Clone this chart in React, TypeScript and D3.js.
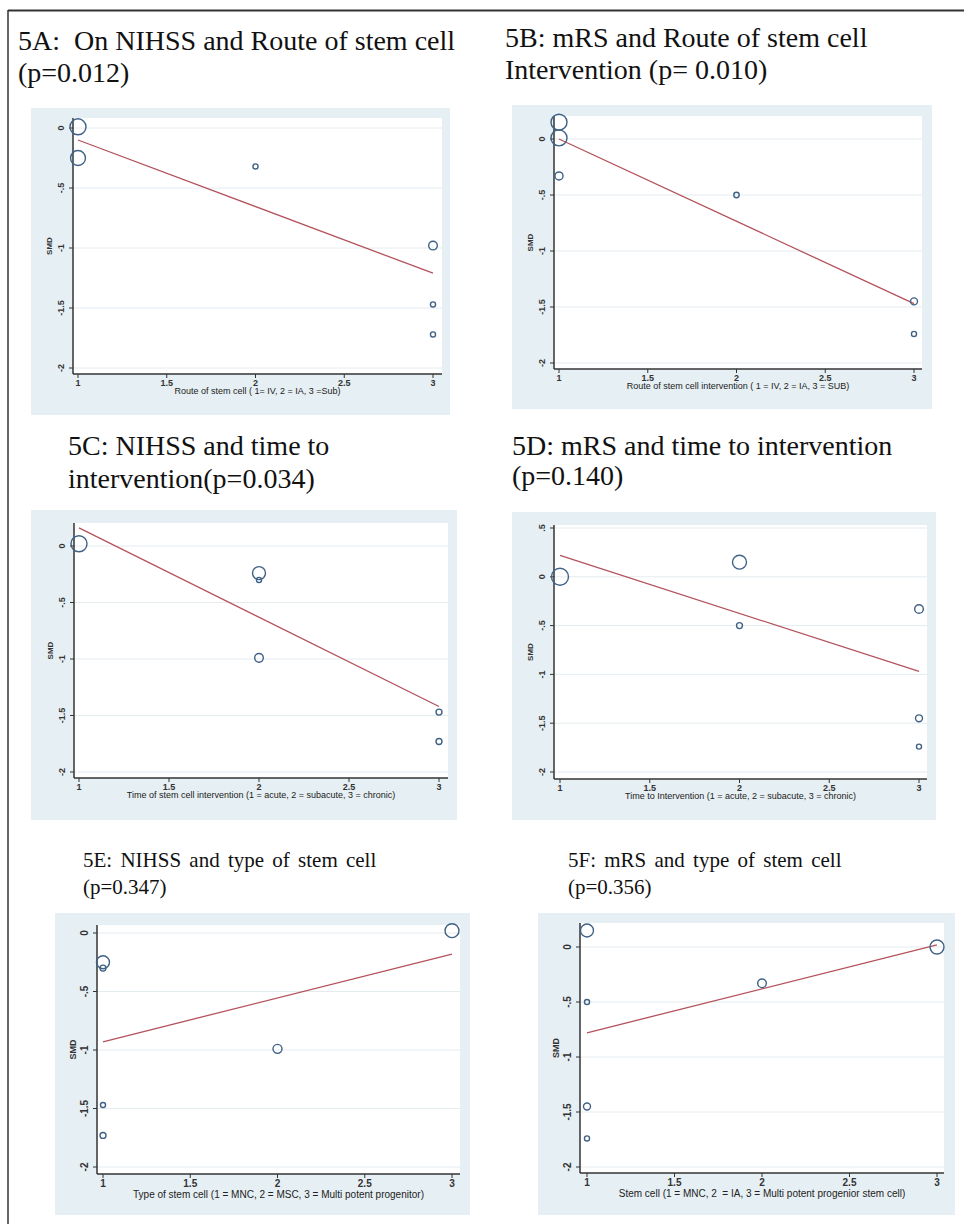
import * as d3 from 'd3';
import React, { useEffect, useRef } from 'react';

const xTicks = [1, 1.5, 2, 2.5, 3];
const yTicksStd = [0, -0.5, -1, -1.5, -2];
const yTicksD = [0.5, 0, -0.5, -1, -1.5, -2];

// each study: category code (x), SMD (y), weight (marker area)
const aX = [1, 1, 2, 3, 3, 3];
const aY = [0.01, -0.25, -0.32, -0.98, -1.47, -1.72];
const aW = [79, 69, 8, 23, 8, 8];
const aFit = [-0.1, -1.21]; // fitted SMD at x=1 and x=3

const bX = [1, 1, 1, 2, 3, 3];
const bY = [0.15, 0.01, -0.33, -0.5, -1.45, -1.74];
const bW = [79, 79, 20, 9, 15, 8];
const bFit = [0.0, -1.47];

const cX = [1, 2, 2, 2, 3, 3];
const cY = [0.02, -0.24, -0.3, -0.99, -1.47, -1.73];
const cW = [79, 52, 8, 23, 11, 11];
const cFit = [0.16, -1.42];

const dX = [1, 2, 2, 3, 3, 3];
const dY = [0.0, 0.15, -0.5, -0.33, -1.45, -1.74];
const dW = [89, 60, 11, 23, 15, 8];
const dFit = [0.22, -0.97];

const eX = [1, 1, 1, 1, 2, 3];
const eY = [-0.25, -0.3, -1.47, -1.73, -0.99, 0.02];
const eW = [52, 11, 8, 11, 25, 60];
const eFit = [-0.93, -0.18];

const fX = [1, 1, 1, 1, 2, 3];
const fY = [0.15, -0.5, -1.45, -1.74, -0.33, 0.0];
const fW = [52, 8, 15, 8, 23, 60];
const fFit = [-0.78, 0.02];

const titles = [
  ['5A:  On NIHSS and Route of stem cell', '(p=0.012)'],
  ['5B: mRS and Route of stem cell', 'Intervention (p= 0.010)'],
  ['5C: NIHSS and time to', 'intervention(p=0.034)'],
  ['5D: mRS and time to intervention', '(p=0.140)'],
  ['5E: NIHSS and type of stem cell', '(p=0.347)'],
  ['5F: mRS and type of stem cell', '(p=0.356)'],
];

const xLabels = [
  'Route of stem cell ( 1= IV, 2 = IA, 3 =Sub)',
  'Route of stem cell intervention ( 1 = IV, 2 = IA, 3 = SUB)',
  'Time of stem cell intervention (1 = acute, 2 = subacute, 3 = chronic)',
  'Time to Intervention (1 = acute, 2 = subacute, 3 = chronic)',
  'Type of stem cell (1 = MNC, 2 = MSC, 3 = Multi potent progenitor)',
  'Stem cell (1 = MNC, 2  = IA, 3 = Multi potent progenior stem cell)',
];

// layout of each panel on the page
const panels = [
  { xs: aX, ys: aY, ws: aW, fit: aFit, yTicks: yTicksStd, bg: [31, 108, 450, 415], axisX: 73, top: 118, right: 442, axisY: 374, xRange: [78, 433], yRange: [128, 368], titleX: 18, titleY: [50, 82], titleSize: 28, big: false },
  { xs: bX, ys: bY, ws: bW, fit: bFit, yTicks: yTicksStd, bg: [512, 105, 932, 409], axisX: 554, top: 116, right: 922, axisY: 369, xRange: [559, 914], yRange: [139, 363], titleX: 505, titleY: [47, 79], titleSize: 28, big: false },
  { xs: cX, ys: cY, ws: cW, fit: cFit, yTicks: yTicksStd, bg: [31, 510, 457, 820], axisX: 74, top: 523, right: 448, axisY: 778, xRange: [79, 439], yRange: [546, 772], titleX: 68, titleY: [455, 488], titleSize: 28, big: false },
  { xs: dX, ys: dY, ws: dW, fit: dFit, yTicks: yTicksD, bg: [512, 512, 936, 820], axisX: 554, top: 525, right: 927, axisY: 779, xRange: [560, 919], yRange: [528, 772], titleX: 512, titleY: [455, 485], titleSize: 28, big: false },
  { xs: eX, ys: eY, ws: eW, fit: eFit, yTicks: yTicksStd, bg: [55, 913, 470, 1215], axisX: 97, top: 925, right: 460, axisY: 1174, xRange: [103, 452], yRange: [933, 1167], titleX: 83, titleY: [867, 894], titleSize: 21, big: true },
  { xs: fX, ys: fY, ws: fW, fit: fFit, yTicks: yTicksStd, bg: [538, 913, 955, 1215], axisX: 580, top: 923, right: 944, axisY: 1173, xRange: [587, 937], yRange: [947, 1167], titleX: 568, titleY: [867, 894], titleSize: 21, big: true },
];

const fmt = (v: number) => String(v).replace(/^(-?)0\./, '$1.');
const sans = '"Liberation Sans", Arial, sans-serif';

export default function App() {
  const ref = useRef<SVGSVGElement>(null);

  useEffect(() => {
    if (!ref.current) return;
    const svg = d3.select(ref.current);
    svg.selectAll('*').remove();

    // page frame (top and left only)
    svg.append('line').attr('x1', 8).attr('x2', 964).attr('y1', 10.5).attr('y2', 10.5)
      .attr('stroke', '#333').attr('stroke-width', 2);
    svg.append('line').attr('x1', 8).attr('x2', 8).attr('y1', 10).attr('y2', 1224)
      .attr('stroke', '#333').attr('stroke-width', 1.5);

    const rScale = d3.scaleSqrt().domain([0, 100]).range([0, 9]);

    panels.forEach((p, i) => {
      const g = svg.append('g');
      const fs = p.big ? 10 : 9;

      // title
      titles[i].forEach((t, k) => {
        g.append('text')
          .attr('x', p.titleX)
          .attr('y', p.titleY[k])
          .attr('font-family', '"Liberation Serif", "Times New Roman", serif')
          .attr('font-size', p.titleSize)
          .attr('word-spacing', p.big ? 3 : 0)
          .attr('fill', '#111')
          .style('white-space', 'pre')
          .text(t);
      });

      // graph region and plot region
      g.append('rect')
        .attr('x', p.bg[0]).attr('y', p.bg[1])
        .attr('width', p.bg[2] - p.bg[0]).attr('height', p.bg[3] - p.bg[1])
        .attr('fill', '#e6eff3');
      g.append('rect')
        .attr('x', p.axisX).attr('y', p.top)
        .attr('width', p.right - p.axisX).attr('height', p.axisY - p.top)
        .attr('fill', '#fff');

      const x = d3.scaleLinear().domain([1, 3]).range(p.xRange);
      const y = d3.scaleLinear().domain([p.yTicks[0], -2]).range(p.yRange);

      // gridlines
      g.selectAll('line.grid')
        .data(p.yTicks)
        .enter()
        .append('line')
        .attr('x1', p.axisX).attr('x2', p.right)
        .attr('y1', d => y(d)).attr('y2', d => y(d))
        .attr('stroke', '#e4ecf0').attr('stroke-width', 1);

      // axes
      g.append('line').attr('x1', p.axisX).attr('x2', p.axisX)
        .attr('y1', p.top).attr('y2', p.axisY)
        .attr('stroke', '#333').attr('stroke-width', 1.5);
      g.append('line').attr('x1', p.axisX).attr('x2', p.right)
        .attr('y1', p.axisY).attr('y2', p.axisY)
        .attr('stroke', '#333').attr('stroke-width', 1.5);

      p.yTicks.forEach(d => {
        g.append('line').attr('x1', p.axisX - 4).attr('x2', p.axisX)
          .attr('y1', y(d)).attr('y2', y(d))
          .attr('stroke', '#333').attr('stroke-width', 1);
        g.append('text')
          .attr('transform', `translate(${p.axisX - 9},${y(d)}) rotate(-90)`)
          .attr('text-anchor', 'middle')
          .attr('font-family', sans)
          .attr('font-size', fs)
          .attr('font-weight', 'bold')
          .attr('fill', '#333')
          .text(fmt(d));
      });
      xTicks.forEach(d => {
        g.append('line').attr('x1', x(d)).attr('x2', x(d))
          .attr('y1', p.axisY).attr('y2', p.axisY + 4)
          .attr('stroke', '#333').attr('stroke-width', 1);
        g.append('text')
          .attr('x', x(d)).attr('y', p.axisY + (p.big ? 13 : 12))
          .attr('text-anchor', 'middle')
          .attr('font-family', sans)
          .attr('font-size', fs)
          .attr('font-weight', 'bold')
          .attr('fill', '#333')
          .text(fmt(d));
      });

      // axis titles
      g.append('text')
        .attr('x', (p.axisX + p.right) / 2)
        .attr('y', p.axisY + (p.big ? 24 : 20))
        .attr('text-anchor', 'middle')
        .attr('font-family', sans)
        .attr('font-size', fs)
        .attr('fill', '#222')
        .style('white-space', 'pre')
        .text(xLabels[i]);
      g.append('text')
        .attr('transform', `translate(${p.axisX - 21},${(p.top + p.axisY) / 2}) rotate(-90)`)
        .attr('text-anchor', 'middle')
        .attr('font-family', sans)
        .attr('font-size', fs - 1)
        .attr('font-weight', 'bold')
        .attr('fill', '#333')
        .text('SMD');

      // fitted line
      const line = d3.line<number>().x((_, k) => x(k === 0 ? 1 : 3)).y(d => y(d));
      g.append('path')
        .attr('d', line(p.fit))
        .attr('fill', 'none')
        .attr('stroke', '#b4525b')
        .attr('stroke-width', 1.3);

      // study markers
      g.selectAll('circle')
        .data(p.xs.map((v, k) => ({ x: v, y: p.ys[k], w: p.ws[k] })))
        .enter()
        .append('circle')
        .attr('cx', d => x(d.x))
        .attr('cy', d => y(d.y))
        .attr('r', d => rScale(d.w))
        .attr('fill', 'none')
        .attr('stroke', '#3f6186')
        .attr('stroke-width', 1.4);
    });
  }, []);

  return (
    <svg
      ref={ref}
      width={964}
      height={1224}
      style={{ position: 'absolute', left: 0, top: 0, background: '#fff' }}
    />
  );
}
